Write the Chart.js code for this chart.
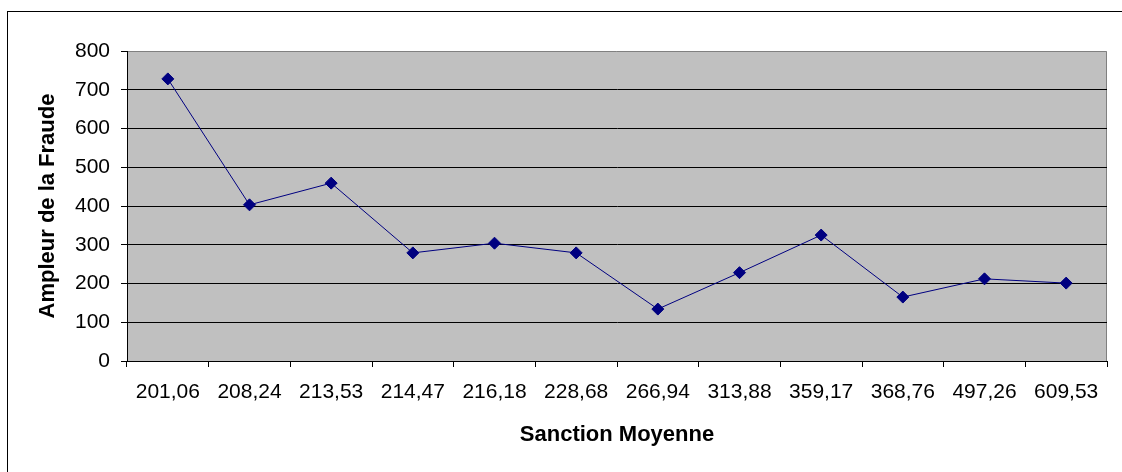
<!DOCTYPE html>
<html>
<head>
<meta charset="utf-8">
<script src="https://cdn.jsdelivr.net/npm/chart.js@4/dist/chart.umd.min.js"></script>
<style>
  html, body { margin: 0; padding: 0; background: #fff; overflow: hidden; }
  #wrap { position: relative; width: 1122px; height: 472px; }
  #frame { position: absolute; left: 7px; top: 11px; width: 1130px; height: 480px; border: 1px solid #000; pointer-events: none; }
  canvas { position: absolute; left: 0; top: 0; }
</style>
</head>
<body>
<div id="wrap">
  <canvas id="chart" width="1122" height="472"></canvas>
  <div id="frame"></div>
</div>
<script>
// Data
const categories = ['201,06', '208,24', '213,53', '214,47', '216,18', '228,68', '266,94', '313,88', '359,17', '368,76', '497,26', '609,53'];
const fraudValues = [728, 403, 459, 279, 304, 279, 134, 228, 325, 165, 212, 201];
const yTicks = [0, 100, 200, 300, 400, 500, 600, 700, 800];

const xTitle = 'Sanction Moyenne';
const yTitle = 'Ampleur de la Fraude';

// Gray plot area with thin gray frame
const plotBackground = {
  id: 'plotBackground',
  beforeDraw(chart) {
    const { ctx, chartArea: a } = chart;
    ctx.save();
    ctx.fillStyle = '#c0c0c0';
    ctx.fillRect(a.left, a.top, a.right - a.left, a.bottom - a.top);
    ctx.strokeStyle = '#808080';
    ctx.lineWidth = 1;
    ctx.beginPath();
    ctx.moveTo(a.left, a.top + 0.5);
    ctx.lineTo(a.right - 0.5, a.top + 0.5);
    ctx.lineTo(a.right - 0.5, a.bottom);
    ctx.stroke();
    ctx.restore();
  }
};

const tickFont = { family: 'Arial, "Liberation Sans", sans-serif', size: 21 };
const titleFont = { family: 'Arial, "Liberation Sans", sans-serif', size: 22, weight: 'bold' };

new Chart(document.getElementById('chart'), {
  type: 'line',
  data: {
    labels: categories,
    datasets: [{
      data: fraudValues,
      borderColor: '#000080',
      backgroundColor: '#000080',
      borderWidth: 1,
      pointStyle: 'rectRot',
      pointRadius: 6,
      pointBorderWidth: 1,
      pointBorderColor: '#000080',
      pointBackgroundColor: '#000080',
      tension: 0
    }]
  },
  options: {
    responsive: false,
    animation: false,
    layout: { padding: { left: 0, top: 51, right: 15, bottom: 0 } },
    plugins: { legend: { display: false }, tooltip: { enabled: false } },
    scales: {
      x: {
        offset: true,
        afterFit: (s) => { s.height = 111; },
        grid: { offset: true, drawOnChartArea: false, tickLength: 6, color: '#000' },
        border: { color: '#000', width: 1 },
        ticks: { color: '#000', font: tickFont, padding: 13, maxRotation: 0, autoSkip: false },
        title: { display: true, text: xTitle, color: '#000', font: titleFont, padding: { bottom: 24 } }
      },
      y: {
        min: 0,
        max: 800,
        afterFit: (s) => { s.width = 127; },
        afterBuildTicks: (s) => { s.ticks = yTicks.map(v => ({ value: v })); },
        grid: {
          color: (c) => c.tick && c.tick.value === 800 ? 'rgba(0,0,0,0)' : '#000',
          tickColor: '#000',
          tickLength: 6,
          lineWidth: 1
        },
        border: { color: '#000', width: 1 },
        ticks: { color: '#000', font: tickFont, padding: 11 },
        title: { display: true, text: yTitle, color: '#000', font: titleFont, padding: { top: 35 } }
      }
    }
  },
  plugins: [plotBackground]
});
</script>
</body>
</html>
